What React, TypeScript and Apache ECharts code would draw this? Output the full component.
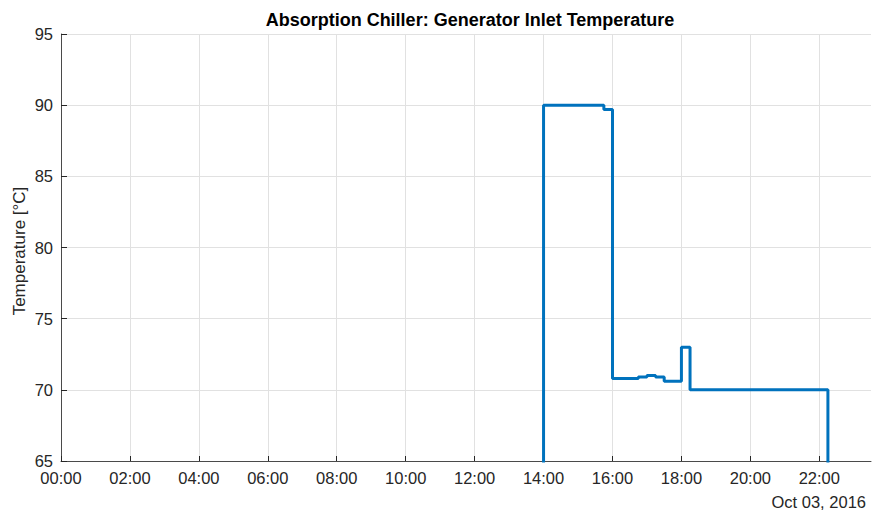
import React, { useEffect, useRef } from "react";
import * as echarts from "echarts";

// Step-data (stairs): value held from its time until the next time
const timeLabels = ["00:00", "14:00", "15:45", "16:00", "16:45", "17:00", "17:15", "17:30", "18:00", "18:15", "22:15"];
const temperatures = [0, 90, 89.7, 70.8, 70.9, 71.0, 70.9, 70.6, 73.0, 70.0, 0];

const xTickLabels = ["00:00", "02:00", "04:00", "06:00", "08:00", "10:00", "12:00", "14:00", "16:00", "18:00", "20:00", "22:00"];
const yTicks = [65, 70, 75, 80, 85, 90, 95];

const titleText = "Absorption Chiller: Generator Inlet Temperature";
const yAxisTitle = "Temperature [°C]";
const dateText = "Oct 03, 2016";

const toHours = (s: string) => {
  const [h, m] = s.split(":").map(Number);
  return h + m / 60;
};

const FONT = "'Liberation Sans', Arial, Helvetica, sans-serif";
const TXT = "#262626";

export default function App() {
  const ref = useRef<HTMLDivElement>(null);
  useEffect(() => {
    if (!ref.current) return;
    const chart = echarts.init(ref.current, undefined, { renderer: "svg" });
    const data = timeLabels.map((t, i) => [toHours(t), temperatures[i]]);
    const xTickValues = xTickLabels.map(toHours);
    chart.setOption({
      animation: false,
      backgroundColor: "#ffffff",
      textStyle: { fontFamily: FONT },
      grid: { left: 61, top: 34, right: 1, bottom: 54, containLabel: false },
      xAxis: {
        type: "value",
        min: 0,
        max: 23.5,
        interval: 2,
        axisLine: { show: true, onZero: false, lineStyle: { color: "#4a4a4a", width: 1 } },
        axisTick: { show: true, inside: true, length: 5, lineStyle: { color: "#262626" }, customValues: xTickValues },
        axisLabel: {
          customValues: xTickValues,
          color: TXT,
          fontSize: 16.5,
          fontFamily: FONT,
          margin: 8,
          formatter: (v: number) => {
            const h = Math.round(v);
            return (h < 10 ? "0" : "") + h + ":00";
          },
        },
        splitLine: { show: true, lineStyle: { color: "#e1e1e1", width: 1 } },
      },
      yAxis: {
        type: "value",
        min: yTicks[0],
        max: yTicks[yTicks.length - 1],
        interval: 5,
        axisLine: { show: true, lineStyle: { color: "#4a4a4a", width: 1 } },
        axisTick: { show: true, inside: true, length: 6, lineStyle: { color: "#262626" } },
        axisLabel: { color: TXT, fontSize: 16.5, fontFamily: FONT, margin: 8 },
        splitLine: { show: true, lineStyle: { color: "#e1e1e1", width: 1 } },
      },
      graphic: [
        {
          type: "text",
          x: 470,
          y: 19.5,
          style: {
            text: titleText,
            fontSize: 18,
            fontWeight: "bold",
            fontFamily: FONT,
            fill: "#000000",
            textAlign: "center",
            textVerticalAlign: "middle",
          },
        },
        {
          type: "text",
          x: 866,
          y: 502,
          style: {
            text: dateText,
            fontSize: 16.5,
            fontFamily: FONT,
            fill: TXT,
            textAlign: "right",
            textVerticalAlign: "middle",
          },
        },
        {
          type: "text",
          x: 19,
          y: 251,
          rotation: Math.PI / 2,
          style: {
            text: yAxisTitle,
            fontSize: 17,
            fontFamily: FONT,
            fill: TXT,
            textAlign: "center",
            textVerticalAlign: "middle",
          },
        },
      ],
      series: [
        {
          type: "line",
          step: "end",
          data,
          showSymbol: false,
          symbol: "none",
          clip: true,
          lineStyle: { color: "#0072BD", width: 3 },
          itemStyle: { color: "#0072BD" },
        },
      ],
    });
    return () => chart.dispose();
  }, []);
  return <div ref={ref} style={{ position: "fixed", left: 0, top: 0, width: 872, height: 515 }} />;
}
